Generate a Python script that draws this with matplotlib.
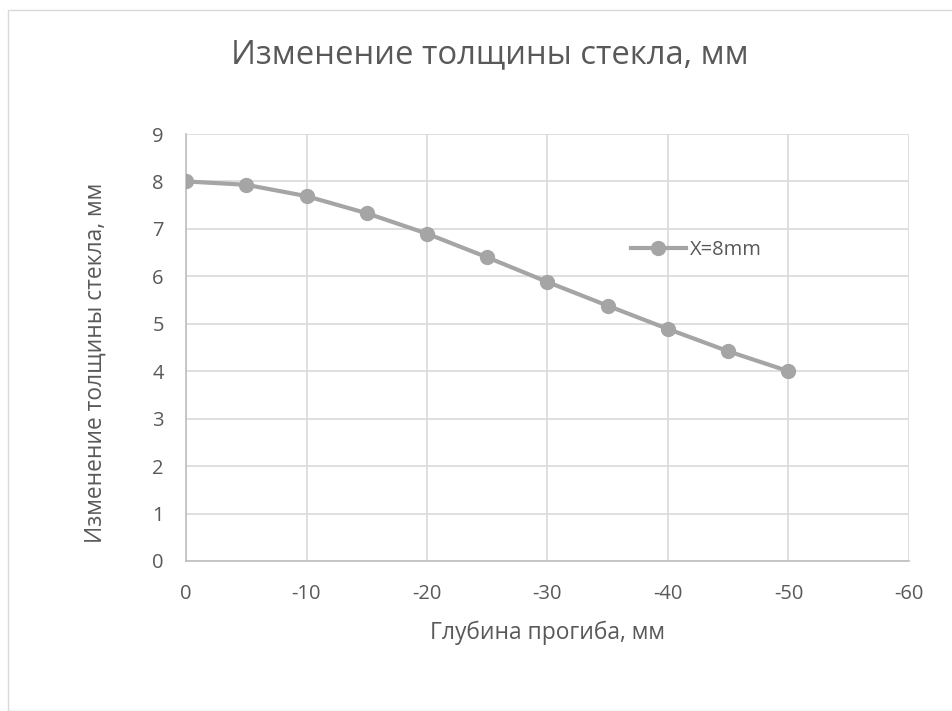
import matplotlib
matplotlib.use("Agg")
import matplotlib.pyplot as plt
from matplotlib.patches import Rectangle

plt.rcParams['font.family'] = ['Open Sans', 'DejaVu Sans']
plt.rcParams['axes.unicode_minus'] = False

depth = [0, -5, -10, -15, -20, -25, -30, -35, -40, -45, -50]
thickness = [8.0, 7.93, 7.69, 7.33, 6.9, 6.4, 5.88, 5.38, 4.89, 4.42, 4.0]
series_name = "X=8mm"
title = "Изменение толщины стекла, мм"
xlabel = "Глубина прогиба, мм"
ylabel = "Изменение толщины стекла, мм"
xticks = [0, -10, -20, -30, -40, -50, -60]
yticks = list(range(0, 10))

txt = '#595959'
W, H = 952, 711
fig = plt.figure(figsize=(W/100, H/100), dpi=100)
fig.patches.append(Rectangle((8/W, 0), 1, 1 - 10/H, transform=fig.transFigure,
                             fill=False, edgecolor='#D9D9D9', linewidth=1))

ax = fig.add_axes([186/W, 1 - 561/H, (909-186)/W, (561-134)/H])
ax.plot(depth, thickness, color='#A5A5A5', linewidth=3, marker='o',
        markersize=10, label=series_name, zorder=3)
ax.set_xlim(0, -60)
ax.set_ylim(0, 9)
ax.set_xticks(xticks)
ax.set_yticks(yticks)
ax.grid(True, color='#D9D9D9', linewidth=1.2)
ax.set_axisbelow(True)
for s in ['top', 'right']:
    ax.spines[s].set_visible(False)
for s in ['left', 'bottom']:
    ax.spines[s].set_color('#BFBFBF')
    ax.spines[s].set_linewidth(1.2)
ax.tick_params(length=0, labelsize=14.5, labelcolor=txt)
ax.tick_params(axis='x', pad=16.5)
ax.tick_params(axis='y', pad=16)

fig.text(490/W, 1 - 55/H, title, ha='center', va='center', fontsize=23.6, color=txt)
fig.text(547/W, 1 - 633/H, xlabel, ha='center', va='center', fontsize=16.4, color=txt)
fig.text(96/W, 1 - 363/H, ylabel, ha='center', va='center', fontsize=16.4, color=txt, rotation=90)

leg = ax.legend(loc='center left', bbox_to_anchor=(613/W, 1 - 250/H), bbox_transform=fig.transFigure,
                frameon=False, fontsize=14.5, handlelength=2.7, handletextpad=0.2, labelcolor=txt)

fig.savefig('out.png', dpi=100)
